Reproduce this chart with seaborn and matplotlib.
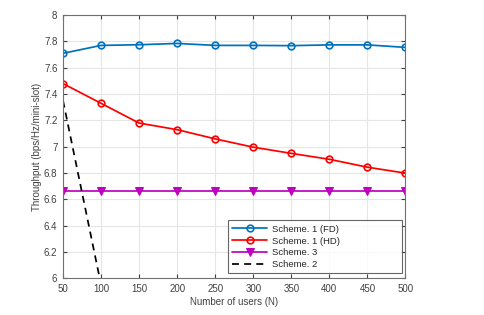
import seaborn as sns
import matplotlib.pyplot as plt
import pandas as pd
import numpy as np

users = [50, 100, 150, 200, 250, 300, 350, 400, 450, 500]
fd = [7.71, 7.77, 7.775, 7.785, 7.77, 7.77, 7.768, 7.774, 7.774, 7.755]
hd = [7.48, 7.33, 7.18, 7.13, 7.06, 6.997, 6.95, 6.905, 6.845, 6.80]
scheme3 = [6.667] * 10
scheme2_users = [50, 100]
scheme2 = [7.35, 5.95]

sns.set_style('white')
plt.rcParams['font.family'] = ['Liberation Sans', 'DejaVu Sans']

fig = plt.figure(figsize=(4.85, 3.15), dpi=100)
ax = fig.add_axes([0.13, 0.116, 0.706, 0.836])

sns.lineplot(x=users, y=fd, ax=ax, color='#0072BD', lw=1.25, marker='o', ms=4.8,
             mfc='none', mew=1.2, mec='#0072BD', label='Scheme. 1 (FD)')
sns.lineplot(x=users, y=hd, ax=ax, color='#FF0000', lw=1.25, marker='o', ms=4.8,
             mfc='none', mew=1.2, mec='#FF0000', label='Scheme. 1 (HD)')
sns.lineplot(x=users, y=scheme3, ax=ax, color='#C000C0', lw=1.25, marker='v', ms=5.5,
             mec='#C000C0', label='Scheme. 3')
sns.lineplot(x=scheme2_users, y=scheme2, ax=ax, color='black', lw=1.25,
             linestyle=(0, (4, 3)), label='Scheme. 2')

ax.set_xlim(50, 500)
ax.set_ylim(6, 8)
ax.set_xticks(np.arange(50, 501, 50))
ax.set_yticks(np.arange(6, 8.01, 0.2))
ax.set_yticklabels(['6', '6.2', '6.4', '6.6', '6.8', '7', '7.2', '7.4', '7.6', '7.8', '8'])
ax.grid(True, color='#e6e6e6', lw=0.8)
ax.tick_params(direction='in', length=3, labelsize=7, colors='#404040',
               top=True, right=True, bottom=True, left=True, pad=4)
for s in ax.spines.values():
    s.set_color('#707070')
    s.set_linewidth(0.8)
ax.set_xlabel('Number of users (N)', fontsize=7, color='#404040', labelpad=2)
ax.set_ylabel('Throughput (bps/Hz/mini-slot)', fontsize=7, color='#404040', labelpad=1)

leg = ax.legend(loc='lower left', fontsize=6.8, frameon=True, fancybox=False,
                mode='expand', bbox_to_anchor=(0.482, 0.019, 0.509, 0.2),
                borderpad=0.45, labelspacing=0.3, handlelength=3.7, handletextpad=0.45,
                borderaxespad=0)
leg.get_frame().set_edgecolor('#404040')
leg.get_frame().set_linewidth(0.8)

fig.savefig('out.png', dpi=100)
